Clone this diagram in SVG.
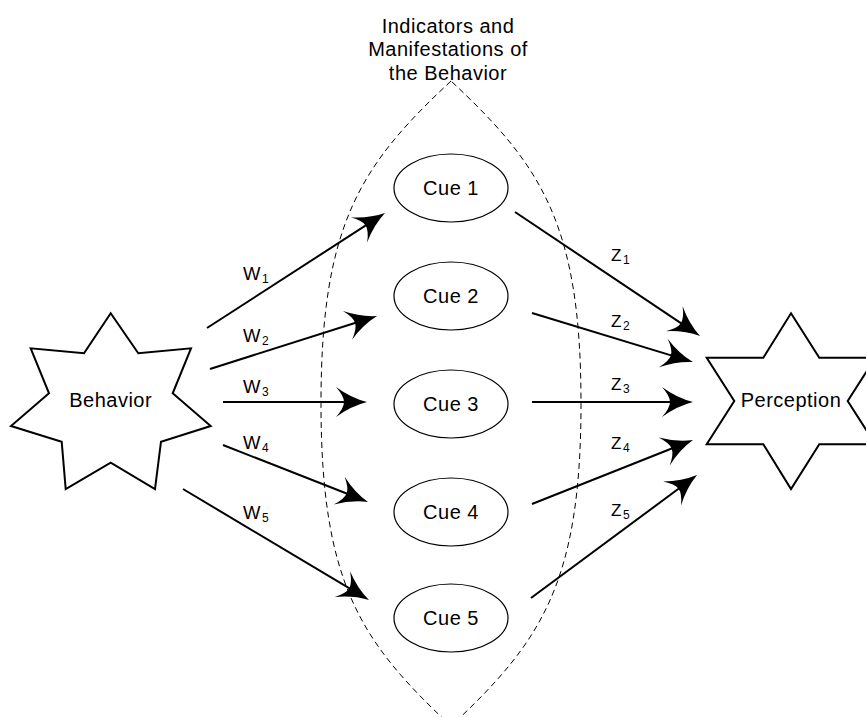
<svg xmlns="http://www.w3.org/2000/svg" width="866" height="717" viewBox="0 0 866 717">
<style>
  .lbl{font-family:"Liberation Sans",Arial,sans-serif;fill:#000;}
  .big{font-size:20px;letter-spacing:0.5px;text-anchor:middle;}
  .w{font-size:18.5px;}
  .z{font-size:17px;}
  .sub{font-size:12px;}
  .star{fill:#fff;stroke:#000;stroke-width:2;stroke-linejoin:miter;}
  .cue{fill:#fff;stroke:#000;stroke-width:1.2;}
  .lens{fill:none;stroke:#000;stroke-width:1;stroke-dasharray:6 4;}
  .arr{fill:none;stroke:#000;stroke-width:2;marker-end:url(#head);}
</style>
<defs>
  <marker id="head" markerUnits="userSpaceOnUse" viewBox="-35 -18 37 36" refX="-10" refY="0" markerWidth="37" markerHeight="36" orient="auto" overflow="visible">
    <path d="M0,0 Q-16,-4 -31,-15 Q-23,-6 -23,0 Q-23,6 -31,15 Q-16,4 0,0 Z" fill="#000"/>
  </marker>
</defs>
<rect width="866" height="717" fill="#fff"/>

<g id="lens">
  <path class="lens" d="M451,81 C361,165 321,223.5 321,403.5 C321,583.5 361,642 451,726 C541,642 581,583.5 581,403.5 C581,223.5 541,165 451,81 Z"/>
  <text class="lbl big" x="448" y="32.5">Indicators and</text>
  <text class="lbl big" x="448" y="56">Manifestations of</text>
  <text class="lbl big" x="448" y="79.5">the Behavior</text>
</g>

<g id="behavior">
  <polygon class="star" points="110.7,313.3 138.3,353.3 191,348.3 172.7,393.3 210.7,426 161,441.7 155,489 110.7,462.7 65.7,489 61.7,441.7 11,426 49,393.3 30.7,348.3 84,353.3"/>
  <text class="lbl big" x="110.7" y="407">Behavior</text>
</g>

<g id="perception">
  <polygon class="star" points="791,313.3 819.3,357.7 875.3,357.7 847.7,401 875.3,444.3 819.3,444.3 791,489 763.3,444.3 706.7,444.3 734.3,401 706.7,357.7 763.3,357.7"/>
  <text class="lbl big" x="791" y="407">Perception</text>
</g>

<g id="cue1">
  <ellipse class="cue" cx="451" cy="188" rx="57" ry="34"/>
  <text class="lbl big" x="451" y="195">Cue 1</text>
</g>
<g id="cue2">
  <ellipse class="cue" cx="451" cy="296" rx="57" ry="34"/>
  <text class="lbl big" x="451" y="303">Cue 2</text>
</g>
<g id="cue3">
  <ellipse class="cue" cx="451" cy="404" rx="57" ry="34"/>
  <text class="lbl big" x="451" y="411">Cue 3</text>
</g>
<g id="cue4">
  <ellipse class="cue" cx="451" cy="512" rx="57" ry="34"/>
  <text class="lbl big" x="451" y="519">Cue 4</text>
</g>
<g id="cue5">
  <ellipse class="cue" cx="451" cy="618" rx="57" ry="34"/>
  <text class="lbl big" x="451" y="625">Cue 5</text>
</g>

<g id="connectors">
  <line class="arr" x1="207" y1="328" x2="376.6" y2="218.4"/>
  <line class="arr" x1="210" y1="369" x2="367.5" y2="319"/>
  <line class="arr" x1="223" y1="402" x2="357" y2="402"/>
  <line class="arr" x1="223" y1="445" x2="358.7" y2="498.3"/>
  <line class="arr" x1="183" y1="489" x2="360.4" y2="594.9"/>
  <line class="arr" x1="515" y1="212" x2="691.7" y2="330.4"/>
  <line class="arr" x1="532" y1="313" x2="683.4" y2="359.1"/>
  <line class="arr" x1="532" y1="402" x2="683" y2="402"/>
  <line class="arr" x1="532" y1="504" x2="683.7" y2="443.7"/>
  <line class="arr" x1="531" y1="598" x2="689" y2="481"/>

  <text class="lbl w" x="243" y="279.5">W<tspan class="sub" dx="1.5" dy="3">1</tspan></text>
  <text class="lbl w" x="243" y="342">W<tspan class="sub" dx="1.5" dy="3">2</tspan></text>
  <text class="lbl w" x="243" y="393.3">W<tspan class="sub" dx="1.5" dy="3">3</tspan></text>
  <text class="lbl w" x="243" y="449.3">W<tspan class="sub" dx="1.5" dy="3">4</tspan></text>
  <text class="lbl w" x="243" y="519.3">W<tspan class="sub" dx="1.5" dy="3">5</tspan></text>

  <text class="lbl z" x="611" y="261">Z<tspan class="sub" dx="1.5" dy="3">1</tspan></text>
  <text class="lbl z" x="611" y="326.5">Z<tspan class="sub" dx="1.5" dy="3">2</tspan></text>
  <text class="lbl z" x="611" y="390">Z<tspan class="sub" dx="1.5" dy="3">3</tspan></text>
  <text class="lbl z" x="611" y="449.3">Z<tspan class="sub" dx="1.5" dy="3">4</tspan></text>
  <text class="lbl z" x="611" y="516">Z<tspan class="sub" dx="1.5" dy="3">5</tspan></text>
</g>
</svg>
